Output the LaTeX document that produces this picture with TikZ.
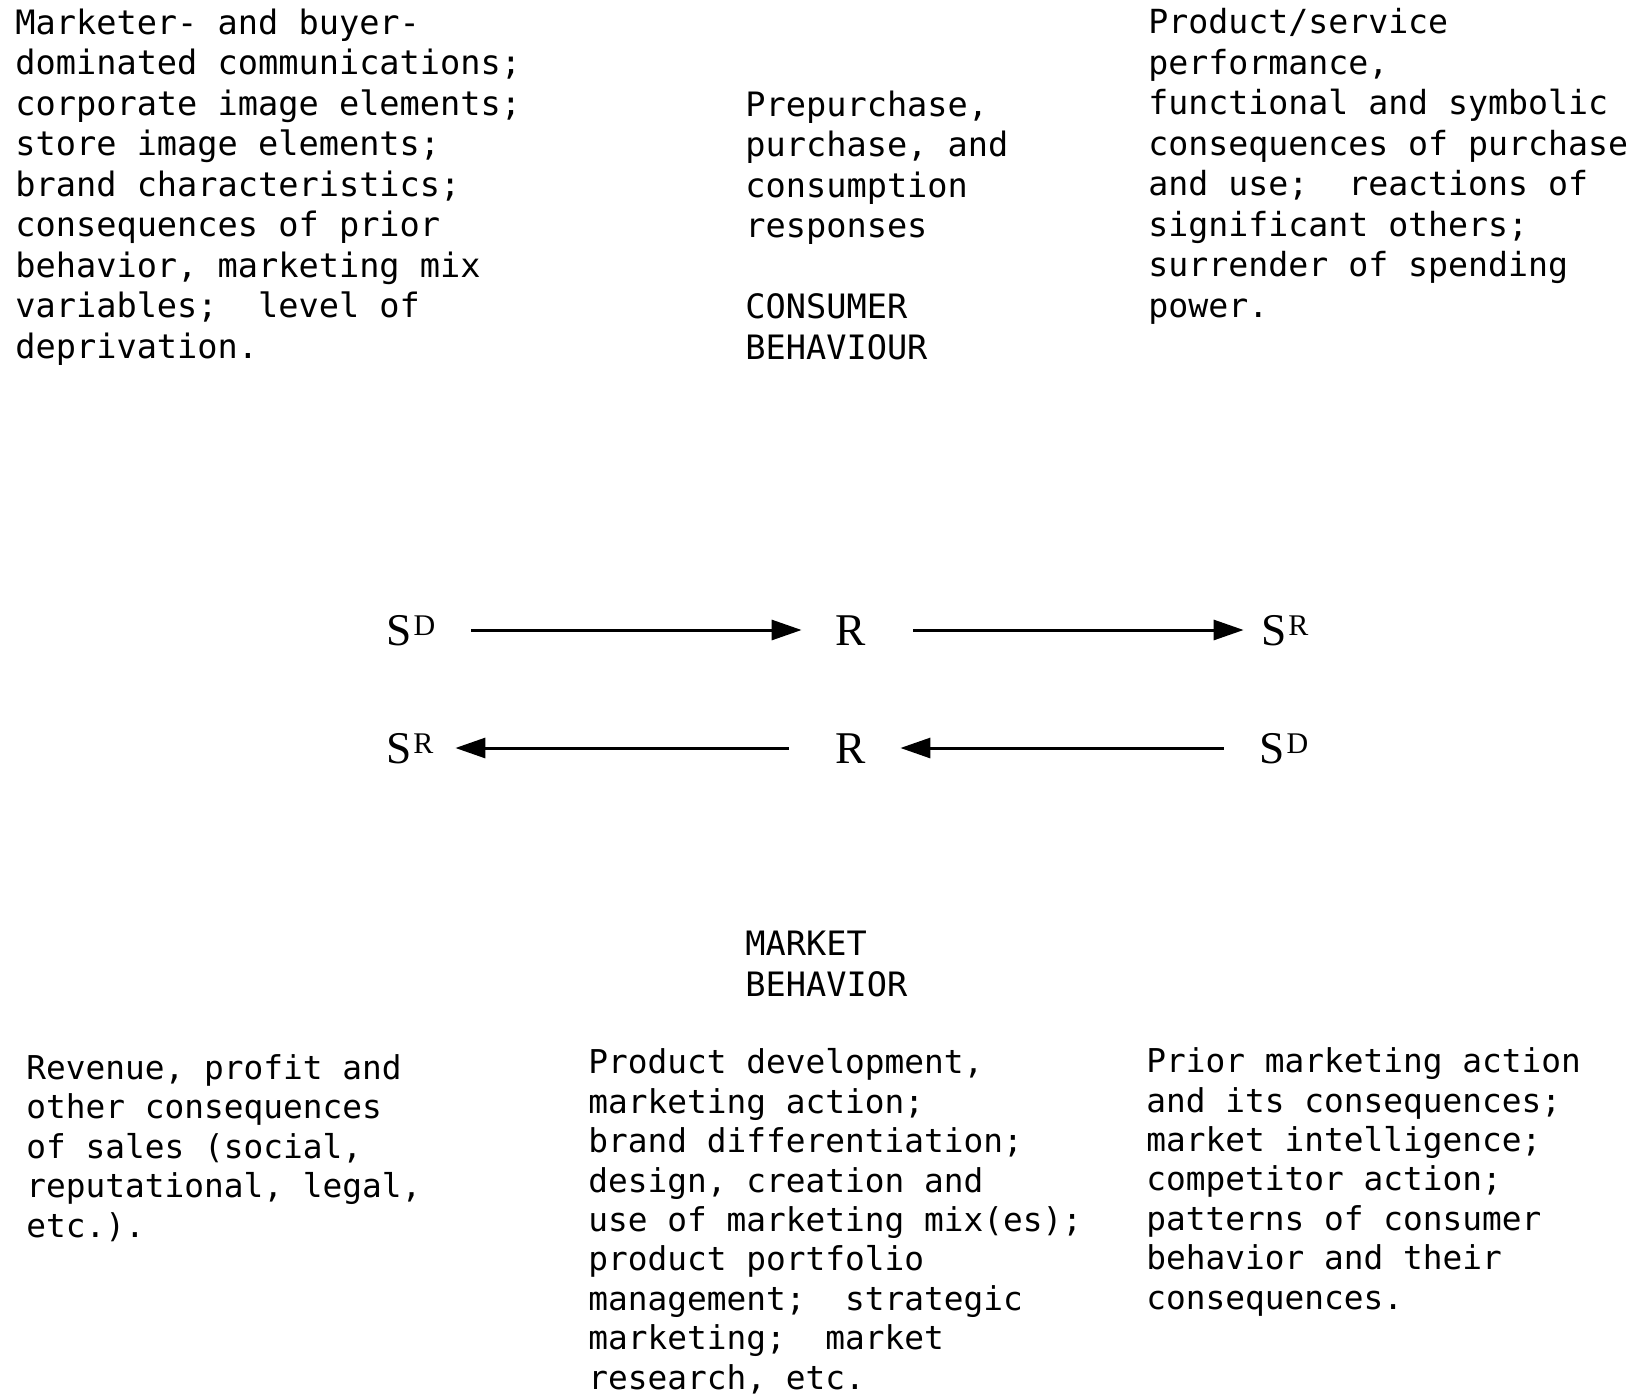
\documentclass[tikz,border=0pt]{standalone}
\usepackage{fontspec}
\usetikzlibrary{arrows.meta}
\newfontfamily\labelmono{DejaVu Sans Mono}
\newfontfamily\symserif{Liberation Serif}
% small raised letter for the S^D / S^R symbols
\newcommand\upletter[1]{\kern0.8pt\raisebox{5pt}{\fontsize{15}{15}\selectfont #1}}
\tikzset{
  % multi-line blocks are placed by the baseline of their last line
  blocktext/.style={anchor=base west, inner sep=0pt, align=left,
    font=\labelmono\fontsize{16.8}{20.25}\selectfont},
  lowtext/.style={blocktext, font=\labelmono\fontsize{16.4}{19.7}\selectfont},
  term/.style={inner sep=0pt, minimum width=47pt, text height=15pt, text depth=0pt,
    font=\symserif\fontsize{22.7}{24}\selectfont},
  flow/.style={line width=1.5pt, -{Triangle[length=15pt,width=10pt]}, shorten <=6.5pt}
}
\begin{document}
\begin{tikzpicture}[x=0.5pt,y=-0.5pt]
\useasboundingbox (0,0) rectangle (1637,1396);

% consumer side
\node[blocktext] (cstim) at (15,358) {Marketer- and buyer-\\dominated communications;\\corporate image elements;\\store image elements;\\brand characteristics;\\consequences of prior\\behavior, marketing mix\\variables;~ level of\\deprivation.};
\node[blocktext] (cresp) at (745,359) {Prepurchase,\\purchase, and\\consumption\\responses\\[20.25pt]CONSUMER\\BEHAVIOUR};
\node[blocktext, font=\labelmono\fontsize{16.6}{20.25}\selectfont] (creinf) at (1148,317) {Product/service\\performance,\\functional and symbolic\\consequences of purchase\\and use;~ reactions of\\significant others;\\surrender of spending\\power.};

% contingency chains
\node[term] (sd1) at (411,630) {S\upletter{D}};
\node[term, minimum width=49pt] (r1) at (851,630) {R};
\node[term, minimum width=41pt] (sr1) at (1285,630) {S\upletter{R}};
\node[term, minimum width=45pt] (sr2) at (410,748) {S\upletter{R}};
\node[term, minimum width=49pt] (r2) at (851,748) {R};
\node[term] (sd2) at (1284,748) {S\upletter{D}};

\draw[flow] (sd1.east) -- (r1.west);
\draw[flow] (r1.east) -- (sr1.west);
\draw[flow] (sd2.west) -- (r2.east);
\draw[flow] (r2.west) -- (sr2.east);

% marketer side
\node[blocktext] (mlabel) at (745,996) {MARKET\\BEHAVIOR};
\node[lowtext] (mreinf) at (26,1237) {Revenue, profit and\\other consequences\\of sales (social,\\reputational, legal,\\etc.).};
\node[lowtext] (mresp) at (588,1389) {Product development,\\marketing action;\\brand differentiation;\\design, creation and\\use of marketing mix(es);\\product portfolio\\management;~ strategic\\marketing;~ market\\research, etc.};
\node[lowtext] (mstim) at (1146,1309) {Prior marketing action\\and its consequences;\\market intelligence;\\competitor action;\\patterns of consumer\\behavior and their\\consequences.};
\end{tikzpicture}
\end{document}
